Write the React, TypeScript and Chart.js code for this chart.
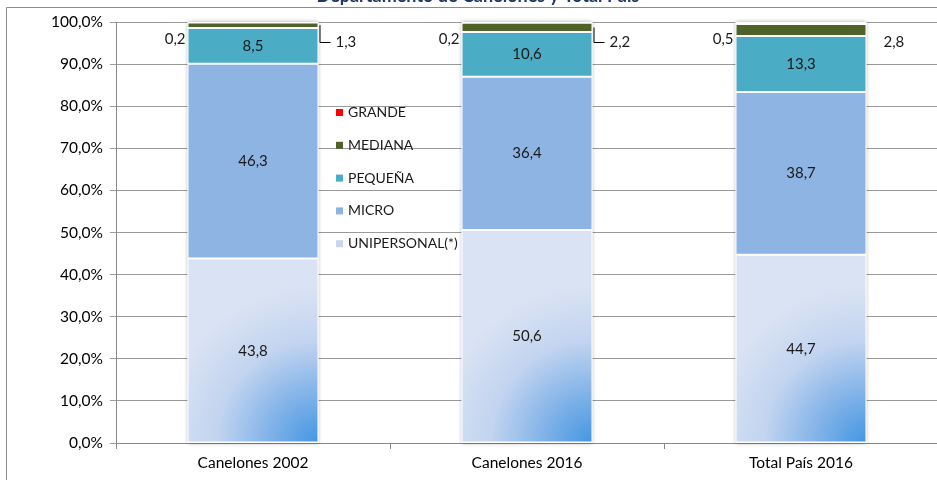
import React, { useEffect, useRef } from "react";
import { Chart, registerables } from "chart.js";

Chart.register(...registerables);

const categories = ["Canelones 2002", "Canelones 2016", "Total País 2016"];
const unipersonal = [43.8, 50.6, 44.7];
const micro = [46.3, 36.4, 38.7];
const pequena = [8.5, 10.6, 13.3];
const mediana = [1.3, 2.2, 2.8];
const grande = [0.2, 0.2, 0.5];
const seriesNames = ["UNIPERSONAL(*)", "MICRO", "PEQUEÑA", "MEDIANA", "GRANDE"];
const legendOrder = ["GRANDE", "MEDIANA", "PEQUEÑA", "MICRO", "UNIPERSONAL(*)"];
const leaderLines = [true, true, false];
const title = "Departamento de Canelones y Total País";

const FONT = "Lato, 'Open Sans', sans-serif";
const BAR_PCT = 0.478;

const colors: Record<string, string> = {
  "UNIPERSONAL(*)": "#DAE3F3",
  MICRO: "#8EB4E3",
  "PEQUEÑA": "#4BACC6",
  MEDIANA: "#4F6228",
  GRANDE: "#F08080",
};
const legendColors: Record<string, string> = {
  "UNIPERSONAL(*)": "#C9D6EE",
  MICRO: "#8EB4E3",
  "PEQUEÑA": "#4BACC6",
  MEDIANA: "#4F6228",
  GRANDE: "#FF0000",
};

const fmt = (v: number) => v.toFixed(1).replace(".", ",");

function barGeom(chart: any, index: number) {
  const xs = chart.scales.x;
  const cw = xs.width / categories.length;
  const cx = xs.getPixelForValue(index);
  const w = cw * BAR_PCT;
  return { left: cx - w / 2, right: cx + w / 2, cx, w };
}

const uniFill = (ctx: any) => {
  const chart = ctx.chart;
  if (!chart.chartArea || ctx.dataIndex === undefined) return colors["UNIPERSONAL(*)"];
  const g = barGeom(chart, ctx.dataIndex);
  const bottom = chart.scales.y.getPixelForValue(0);
  const c = chart.ctx;
  const grad = c.createRadialGradient(g.right, bottom, 0, g.right, bottom, g.w * 1.2);
  grad.addColorStop(0, "#4296E2");
  grad.addColorStop(0.3, "#7EB1E8");
  grad.addColorStop(0.65, "#C2D4F0");
  grad.addColorStop(1, "#DAE3F3");
  return grad;
};

const decorPlugin = {
  id: "decor",
  beforeDatasetsDraw(chart: any) {
    const c = chart.ctx;
    const ys = chart.scales.y;
    c.save();
    c.shadowColor = "rgba(0,0,0,0.35)";
    c.shadowBlur = 4;
    c.fillStyle = "#ffffff";
    categories.forEach((_, i) => {
      const g = barGeom(chart, i);
      const top = ys.getPixelForValue(100);
      const bottom = ys.getPixelForValue(0);
      c.fillRect(g.left, top, g.w, bottom - top);
    });
    c.restore();
  },
  afterDraw(chart: any) {
    const c = chart.ctx;
    const ys = chart.scales.y;
    c.save();
    // frame
    c.strokeStyle = "#8C8C8C";
    c.lineWidth = 1;
    c.beginPath();
    c.moveTo(6.5, 480);
    c.lineTo(6.5, 7.5);
    c.lineTo(940, 7.5);
    c.stroke();
    // title
    c.fillStyle = "#1F3864";
    c.font = `bold 18px ${FONT}`;
    c.textAlign = "center";
    c.textBaseline = "alphabetic";
    c.fillText(title, 478, 1.5);

    // inside labels
    c.fillStyle = "#1A1A1A";
    c.font = `15px ${FONT}`;
    c.textBaseline = "middle";
    const inside = [unipersonal, micro, pequena];
    categories.forEach((_, i) => {
      const g = barGeom(chart, i);
      let base = 0;
      inside.forEach((arr) => {
        const mid = base + arr[i] / 2;
        c.textAlign = "center";
        c.fillText(fmt(arr[i]), g.cx, ys.getPixelForValue(mid));
        base += arr[i];
      });
      const topY = ys.getPixelForValue(100);
      // grande: left
      c.textAlign = "right";
      c.fillText(fmt(grande[i]), g.left - 2, topY + 17);
      // mediana: right
      const labY = topY + 20;
      c.textAlign = "left";
      c.fillText(fmt(mediana[i]), g.right + 17, labY);
      if (leaderLines[i]) {
        const segMid = ys.getPixelForValue(base + mediana[i] / 2);
        c.strokeStyle = "#000";
        c.lineWidth = 1;
        c.beginPath();
        c.moveTo(g.right + 1.5, segMid);
        c.lineTo(g.right + 1.5, labY + 0.5);
        c.lineTo(g.right + 12, labY + 0.5);
        c.stroke();
      }
    });

    // legend
    c.font = `14px ${FONT}`;
    c.textAlign = "left";
    c.textBaseline = "middle";
    legendOrder.forEach((name, k) => {
      const y = 112.5 + k * 32.8;
      c.fillStyle = legendColors[name];
      c.fillRect(336, y - 3.5, 7, 7);
      c.fillStyle = "#1A1A1A";
      c.fillText(name, 348, y);
    });
    c.restore();
  },
};

export default function App() {
  const ref = useRef<HTMLCanvasElement>(null);
  useEffect(() => {
    document.body.style.margin = "0";
    const values = [unipersonal, micro, pequena, mediana, grande];
    const chart = new Chart(ref.current!, {
      type: "bar",
      data: {
        labels: categories,
        datasets: seriesNames.map((name, k) => ({
          label: name,
          data: values[k],
          backgroundColor: name === "UNIPERSONAL(*)" ? uniFill : colors[name],
          borderColor: "#FFFFFF",
          borderWidth: 1,
          borderSkipped: false,
          categoryPercentage: 1,
          barPercentage: BAR_PCT,
        })),
      },
      options: {
        responsive: false,
        animation: false,
        devicePixelRatio: 1,
        layout: { padding: { left: 0, top: 22, right: 2, bottom: 0 } },
        plugins: { legend: { display: false }, tooltip: { enabled: false }, title: { display: false } },
        scales: {
          x: {
            stacked: true,
            afterFit: (s: any) => { s.height = 37; },
            grid: { drawOnChartArea: false, drawTicks: true, tickLength: 6, offset: true, color: "#888" },
            border: { color: "#888" },
            ticks: { color: "#000", font: { family: FONT, size: 15.5 }, padding: 5 },
          },
          y: {
            stacked: true,
            min: 0,
            max: 100,
            afterFit: (s: any) => { s.width = 116; },
            ticks: {
              stepSize: 10,
              color: "#000",
              padding: 7,
              font: { family: FONT, size: 15.5 },
              callback: (v: any) => fmt(Number(v)) + "%",
            },
            grid: { color: "#9A9A9A", lineWidth: 1, tickLength: 6 },
            border: { color: "#888" },
          },
        },
      },
      plugins: [decorPlugin],
    });
    return () => chart.destroy();
  }, []);
  return (
    <div style={{ width: 937, height: 480, overflow: "hidden", position: "relative", background: "#fff" }}>
      <canvas ref={ref} width={940} height={480} style={{ display: "block" }} />
    </div>
  );
}
